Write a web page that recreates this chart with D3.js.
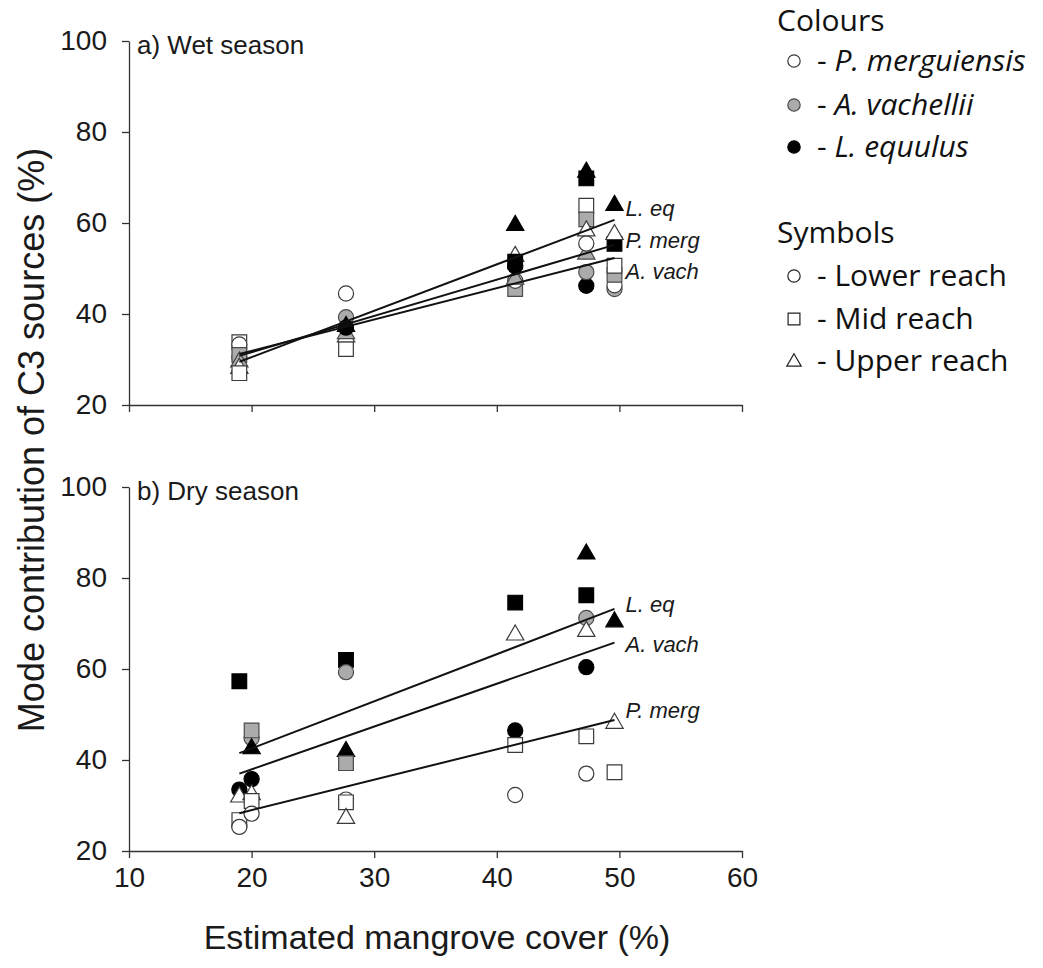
<!DOCTYPE html>
<html>
<head>
<meta charset="utf-8">
<script src="https://cdn.jsdelivr.net/npm/d3@7"></script>
<style>
  html, body { margin: 0; padding: 0; background: #fff; }
  svg { display: block; }
</style>
</head>
<body>
<svg id="chart" width="1043" height="968"></svg>
<script>
// ---------- data ----------
const species = ["P. merguiensis", "A. vachellii", "L. equulus"];
const speciesShort = ["P. merg", "A. vach", "L. eq"];
const reaches = ["Lower reach", "Mid reach", "Upper reach"];
const xTicks = [10, 20, 30, 40, 50, 60];
const yTicks = [20, 40, 60, 80, 100];

// points: [mangrove cover %, C3 contribution %, species index, reach index]
const wetPoints = [
  [19, 33.8, 0, 1], [19, 33.3, 0, 0], [19, 30.5, 1, 0], [19, 31.0, 1, 1],
  [19, 29.8, 1, 2], [19, 28.4, 0, 2], [19, 27.0, 0, 1],
  [27.7, 44.5, 0, 0], [27.7, 39.3, 1, 0], [27.7, 32.3, 0, 1], [27.7, 35.3, 0, 2],
  [27.7, 36.0, 1, 2], [27.7, 37.0, 2, 0], [27.7, 37.6, 2, 2],
  [41.5, 45.5, 1, 1], [41.5, 47.3, 0, 0], [41.5, 48.0, 1, 2], [41.5, 53.0, 0, 2],
  [41.5, 50.5, 2, 0], [41.5, 51.5, 2, 1], [41.5, 59.8, 2, 2],
  [47.3, 46.2, 2, 0], [47.3, 49.2, 1, 0], [47.3, 53.5, 1, 2], [47.3, 55.5, 0, 0],
  [47.3, 63.8, 0, 1], [47.3, 60.8, 1, 1], [47.3, 58.6, 0, 2], [47.3, 69.8, 2, 1],
  [47.3, 71.5, 2, 2],
  [49.6, 45.5, 1, 0], [49.6, 46.3, 0, 0], [49.6, 48.6, 1, 1], [49.6, 50.6, 0, 1],
  [49.6, 55.4, 2, 1], [49.6, 57.8, 0, 2], [49.6, 64.2, 2, 2]
];
const dryPoints = [
  [19, 57.3, 2, 1], [19, 33.5, 2, 0], [19, 32.2, 0, 2], [19, 26.8, 0, 1], [19, 25.3, 0, 0],
  [20, 44.8, 1, 0], [20, 46.5, 1, 1], [20, 42.8, 2, 2], [20, 35.8, 2, 0],
  [20, 32.7, 0, 2], [20, 31.0, 0, 1], [20, 28.2, 0, 0],
  [27.7, 62.0, 2, 1], [27.7, 59.3, 1, 0], [27.7, 42.2, 2, 2], [27.7, 39.3, 1, 1],
  [27.7, 31.3, 0, 0], [27.7, 30.7, 0, 1], [27.7, 27.5, 0, 2],
  [41.5, 74.6, 2, 1], [41.5, 67.8, 0, 2], [41.5, 46.5, 2, 0], [41.5, 43.3, 0, 1], [41.5, 32.3, 0, 0],
  [47.3, 85.6, 2, 2], [47.3, 76.2, 2, 1], [47.3, 71.2, 1, 0], [47.3, 68.6, 0, 2],
  [47.3, 60.4, 2, 0], [47.3, 45.2, 0, 1], [47.3, 37.0, 0, 0],
  [49.6, 70.7, 2, 2], [49.6, 48.4, 0, 2], [49.6, 37.3, 0, 1]
];

// regression lines: [species index, x start, y start, x end, y end]
const wetLines = [
  [2, 19, 29.5, 49.6, 60.7],
  [0, 19, 30.8, 49.6, 55.2],
  [1, 19, 31.2, 49.6, 52.3]
];
const dryLines = [
  [2, 19, 41.5, 49.6, 73.2],
  [1, 19, 37.0, 49.6, 65.8],
  [0, 19, 28.3, 49.6, 48.8]
];
// line label y-values (data units) for each panel
const wetLabelY = { 2: 63.2, 0: 56.3, 1: 49.5 };
const dryLabelY = { 2: 74.2, 1: 65.4, 0: 51.0 };

// ---------- styles ----------
const fills = ["#ffffff", "#ababab", "#000000"];
const strokes = ["#3a3a3a", "#4a4a4a", "#000000"];
const symbolTypes = [d3.symbolCircle, d3.symbolSquare, d3.symbolTriangle];
const symbolSizes = [180, 215, 130];
const sansFont = "'Liberation Sans', Arial, sans-serif";

const svg = d3.select("#chart");
const x = d3.scaleLinear().domain([10, 60]).range([129, 742]);

function panel(yRange, points, lines, labelY, title, showXLabels) {
  const y = d3.scaleLinear().domain([20, 100]).range(yRange);
  const g = svg.append("g");

  const yAxis = g.append("g")
    .attr("transform", `translate(${x(10)},0)`)
    .call(d3.axisLeft(y).tickValues(yTicks).tickSize(7).tickSizeOuter(0).tickPadding(15));
  const xAxis = g.append("g")
    .attr("transform", `translate(0,${y(20)})`)
    .call(d3.axisBottom(x).tickValues(xTicks).tickSize(7).tickSizeOuter(0).tickPadding(9)
      .tickFormat(showXLabels ? d3.format("d") : () => ""));
  [yAxis, xAxis].forEach(a => {
    a.selectAll("path, line").attr("stroke", "#333").attr("stroke-width", 1.3);
    a.selectAll("text").attr("fill", "#1a1a1a")
      .style("font-family", sansFont).style("font-size", "28px");
  });

  g.append("text")
    .attr("x", 137).attr("y", yRange[1] + 13)
    .style("font-family", sansFont).style("font-size", "26px")
    .attr("fill", "#1a1a1a")
    .text(title);

  // points
  g.selectAll("path.pt").data(points).join("path")
    .attr("class", "pt")
    .attr("transform", d => `translate(${x(d[0])},${y(d[1]) + (d[3] === 2 ? 1.5 : 0)})`)
    .attr("d", d => d3.symbol().type(symbolTypes[d[3]]).size(symbolSizes[d[3]])())
    .attr("fill", d => fills[d[2]])
    .attr("stroke", d => strokes[d[2]])
    .attr("stroke-width", 1.2);

  // regression lines
  g.selectAll("line.fit").data(lines).join("line")
    .attr("class", "fit")
    .attr("x1", d => x(d[1])).attr("y1", d => y(d[2]))
    .attr("x2", d => x(d[3])).attr("y2", d => y(d[4]))
    .attr("stroke", "#111").attr("stroke-width", 2);

  // line labels
  g.selectAll("text.lab").data(lines).join("text")
    .attr("class", "lab")
    .attr("x", d => x(d[3]) + 11)
    .attr("y", d => y(labelY[d[0]]) + 8)
    .style("font-family", sansFont)
    .style("font-size", "22px").style("font-style", "italic")
    .attr("fill", "#1a1a1a")
    .text(d => speciesShort[d[0]]);
}

panel([405, 41], wetPoints, wetLines, wetLabelY, "a) Wet season", false);
panel([851, 487], dryPoints, dryLines, dryLabelY, "b) Dry season", true);

// axis titles
svg.append("text")
  .attr("x", 437).attr("y", 949)
  .attr("text-anchor", "middle")
  .style("font-family", sansFont).style("font-size", "34px")
  .attr("fill", "#1a1a1a")
  .text("Estimated mangrove cover (%)");
svg.append("text")
  .attr("transform", "translate(44,440) rotate(-90)")
  .attr("text-anchor", "middle")
  .style("font-family", sansFont).style("font-size", "36px")
  .attr("fill", "#1a1a1a")
  .text("Mode contribution of C3 sources (%)");

// legend
const legFont = "'Open Sans', 'Noto Sans', sans-serif";
const legSize = "30px";
const leg = svg.append("g");
leg.append("text").attr("x", 777).attr("y", 31)
  .style("font-family", legFont).style("font-size", legSize).attr("fill", "#111").text("Colours");
const colourRows = [71, 115, 157];
species.forEach((s, i) => {
  leg.append("path")
    .attr("transform", `translate(794,${colourRows[i] - 10})`)
    .attr("d", d3.symbol().type(d3.symbolCircle).size(120)())
    .attr("fill", fills[i]).attr("stroke", strokes[i]).attr("stroke-width", 1.2);
  const t = leg.append("text").attr("x", 817).attr("y", colourRows[i])
    .style("font-family", legFont).style("font-size", legSize).attr("fill", "#111");
  t.append("tspan").text("- ");
  t.append("tspan").style("font-style", "italic").text(s);
});
leg.append("text").attr("x", 777).attr("y", 243)
  .style("font-family", legFont).style("font-size", legSize).attr("fill", "#111").text("Symbols");
const symbolRows = [286, 329, 371];
reaches.forEach((r, i) => {
  leg.append("path")
    .attr("transform", `translate(794,${symbolRows[i] - 10 + (i === 2 ? 1 : 0)})`)
    .attr("d", d3.symbol().type(symbolTypes[i]).size([120, 140, 90][i])())
    .attr("fill", "#fff").attr("stroke", "#222").attr("stroke-width", 1.2);
  leg.append("text").attr("x", 817).attr("y", symbolRows[i])
    .style("font-family", legFont).style("font-size", legSize).attr("fill", "#111")
    .text("- " + r);
});
</script>
</body>
</html>
